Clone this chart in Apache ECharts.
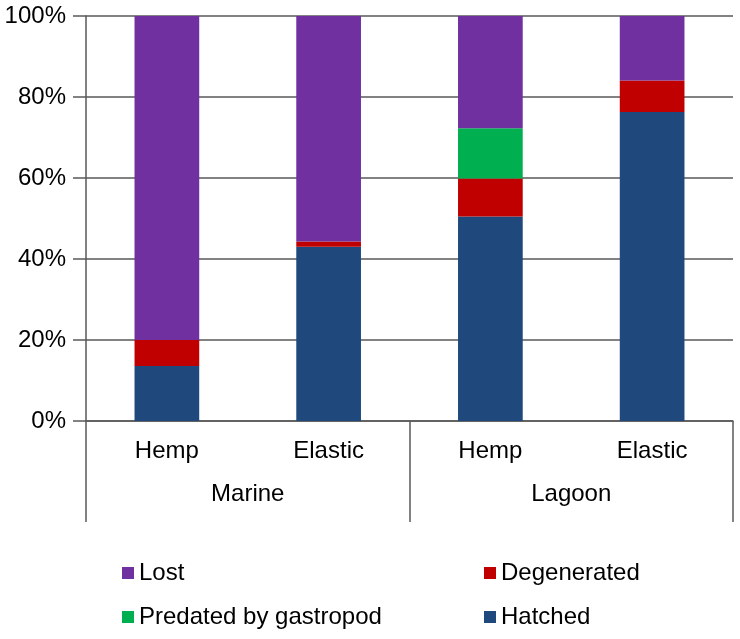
<!DOCTYPE html>
<html>
<head>
<meta charset="utf-8">
<script src="https://cdn.jsdelivr.net/npm/echarts@6/dist/echarts.min.js"></script>
<style>html,body{margin:0;padding:0;background:#fff}#c{width:740px;height:639px}</style>
</head>
<body>
<div id="c"></div>
<script>
var subCategories = ['Hemp', 'Elastic', 'Hemp', 'Elastic'];
var groups = ['Marine', 'Lagoon'];
var yTicks = [0, 20, 40, 60, 80, 100];
var hatched = [13.6, 43.0, 50.5, 76.3];
var degenerated = [6.4, 1.3, 9.4, 7.8];
var predated = [0, 0, 12.4, 0];
var lost = [80.0, 55.7, 27.7, 15.9];

var FONT = 'Liberation Sans, Arial, sans-serif';
var FS = 24;
var LINE = '#595959';
var chart = echarts.init(document.getElementById('c'), null, {renderer: 'canvas'});
function bar(name, data, color) {
  return {name: name, type: 'bar', stack: 'total', data: data, barWidth: '40%',
    xAxisIndex: 0, itemStyle: {color: color}, emphasis: {disabled: true}};
}
chart.setOption({
  animation: false,
  textStyle: {fontFamily: FONT},
  grid: {left: 86, right: 7, top: 16, bottom: 218, containLabel: false},
  xAxis: [
    {type: 'category', data: subCategories, position: 'bottom',
      axisLine: {show: true, lineStyle: {color: LINE, width: 1.5}},
      axisTick: {show: false},
      axisLabel: {margin: 18, fontSize: FS, color: '#000', fontFamily: FONT, interval: 0}},
    {type: 'category', data: groups, position: 'bottom', offset: 0,
      axisLine: {show: false},
      axisTick: {show: true, length: 101, interval: 0, lineStyle: {color: LINE, width: 1.5}},
      axisLabel: {margin: 61, fontSize: FS, color: '#000', fontFamily: FONT, interval: 0},
      splitLine: {show: false}}
  ],
  yAxis: {type: 'value', min: yTicks[0], max: yTicks[yTicks.length - 1], interval: yTicks[1] - yTicks[0],
    axisLine: {show: true, lineStyle: {color: LINE, width: 1.5}},
    axisTick: {show: true, length: 13, lineStyle: {color: LINE, width: 1.5}},
    axisLabel: {formatter: '{value}%', fontSize: FS, color: '#000', margin: 20, fontFamily: FONT},
    splitLine: {show: true, lineStyle: {color: LINE, width: 1.5}}},
  legend: [
    {data: ['Lost', 'Predated by gastropod'], orient: 'vertical', left: 117, top: 556,
      icon: 'rect', itemWidth: 12, itemHeight: 12, itemGap: 20, selectedMode: false,
      textStyle: {fontSize: FS, color: '#000', fontFamily: FONT}},
    {data: ['Degenerated', 'Hatched'], orient: 'vertical', left: 479, top: 556,
      icon: 'rect', itemWidth: 12, itemHeight: 12, itemGap: 20, selectedMode: false,
      textStyle: {fontSize: FS, color: '#000', fontFamily: FONT}}
  ],
  series: [
    bar('Hatched', hatched, '#1F497D'),
    bar('Degenerated', degenerated, '#C00000'),
    bar('Predated by gastropod', predated, '#00B050'),
    bar('Lost', lost, '#7030A0')
  ]
});
</script>
</body>
</html>
